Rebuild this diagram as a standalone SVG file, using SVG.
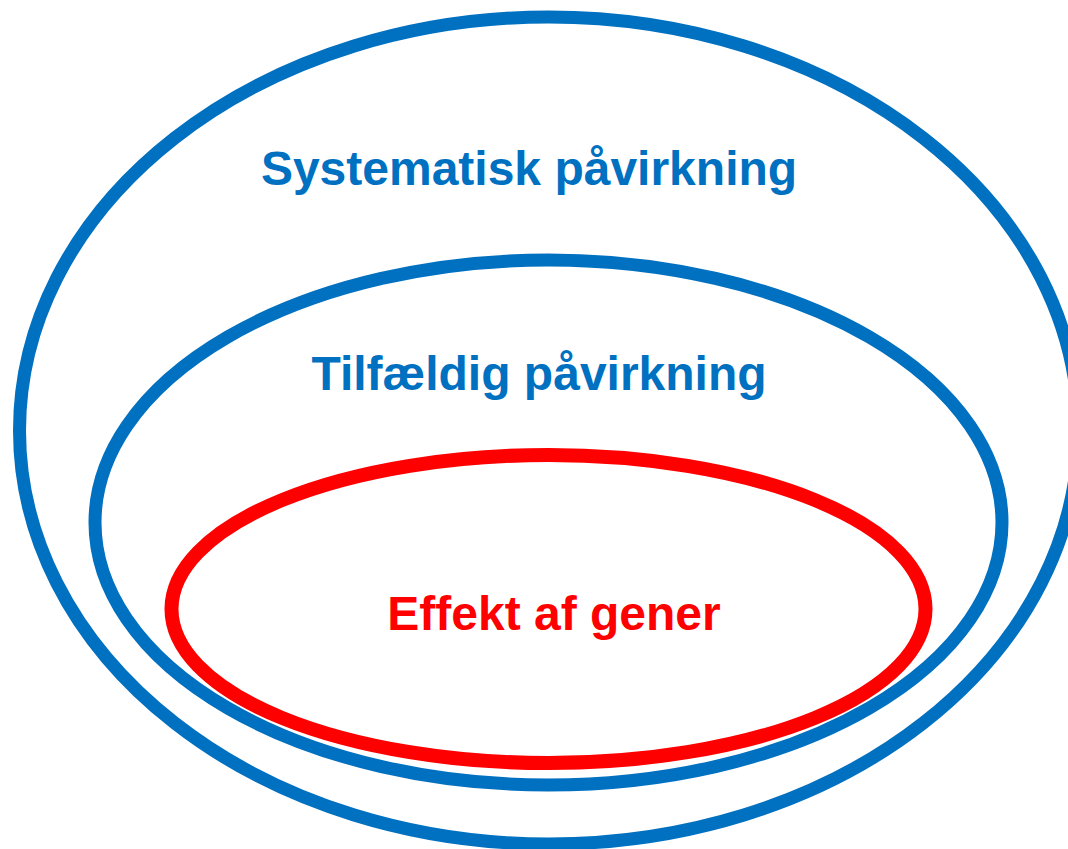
<svg xmlns="http://www.w3.org/2000/svg" width="1068" height="849" viewBox="0 0 1068 849">
  <style>
    .ring { fill: none; stroke-width: 13; }
    .blue { stroke: #0070C0; }
    .red { stroke: #FF0000; stroke-width: 14; }
    .label { font-family: "Liberation Sans", Arial, sans-serif; font-weight: bold; font-size: 48px; text-anchor: middle; }
  </style>
  <rect width="1068" height="849" fill="#FFFFFF"/>
  <g id="systematisk">
    <ellipse class="ring blue" cx="549" cy="430.5" rx="529.5" ry="413.5"/>
    <text class="label" x="529" y="185" fill="#0070C0">Systematisk påvirkning</text>
  </g>
  <g id="tilfaeldig">
    <ellipse class="ring blue" cx="548.5" cy="522.5" rx="453.5" ry="262.5"/>
    <text class="label" x="539" y="390" fill="#0070C0">Tilfældig påvirkning</text>
  </g>
  <g id="gener">
    <ellipse class="ring red" cx="548.5" cy="609" rx="377" ry="154"/>
    <text class="label" x="554" y="630" fill="#FF0000">Effekt af gener</text>
  </g>
  <g id="connectors"/>
</svg>
